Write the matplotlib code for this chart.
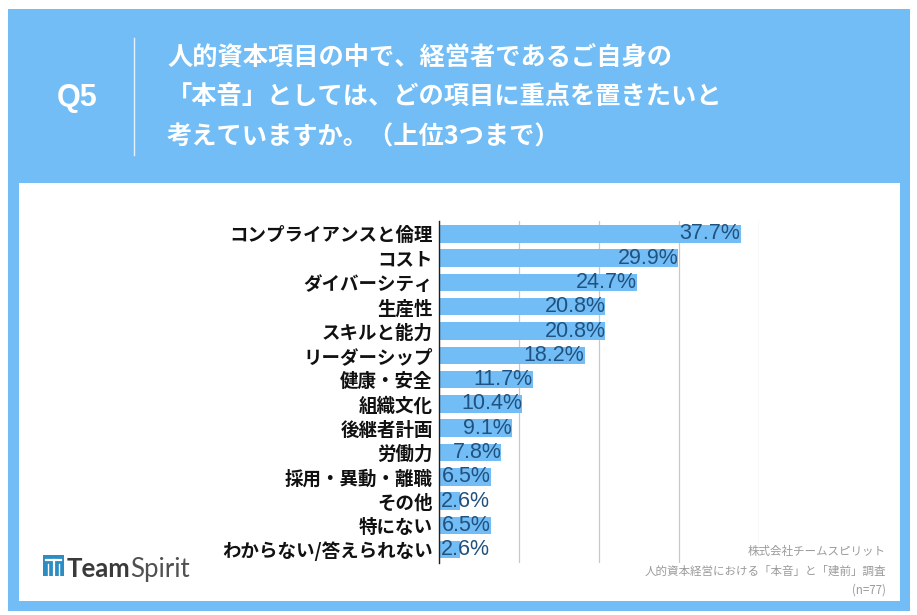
import matplotlib
matplotlib.use("Agg")
import matplotlib.pyplot as plt
from matplotlib.patches import Rectangle
from matplotlib.transforms import Affine2D, offset_copy
from matplotlib.lines import Line2D

categories = ["コンプライアンスと倫理", "コスト", "ダイバーシティ", "生産性", "スキルと能力",
              "リーダーシップ", "健康・安全", "組織文化", "後継者計画", "労働力",
              "採用・異動・離職", "その他", "特にない", "わからない/答えられない"]
values = [37.7, 29.9, 24.7, 20.8, 20.8, 18.2, 11.7, 10.4, 9.1, 7.8, 6.5, 2.6, 6.5, 2.6]
xticks = [0, 10, 20, 30, 40]

question = "Q5"
title_lines = ["人的資本項目の中で、経営者であるご自身の",
               "「本音」としては、どの項目に重点を置きたいと",
               "考えていますか。（上位3つまで）"]
source_lines = ["株式会社チームスピリット", "人的資本経営における「本音」と「建前」調査", "(n=77)"]

JP = ["Noto Sans CJK JP", "DejaVu Sans"]
plt.rcParams['font.family'] = JP

W, H = 917, 615
fig = plt.figure(figsize=(W / 100, H / 100), dpi=100)
fig.patch.set_facecolor("white")
px = Affine2D().scale(1 / W, -1 / H).translate(0, 1) + fig.transFigure

BLUE = "#72bdf5"
# panels
fig.add_artist(Rectangle((8, 9), 902, 602, transform=px, facecolor=BLUE, edgecolor="none", zorder=0))
fig.add_artist(Rectangle((19, 183), 881, 418, transform=px, facecolor="white", edgecolor="none", zorder=0))

# header
fig.text(77, 98, question, transform=px, color="white", fontsize=22, fontweight="bold",
         family=["Liberation Sans"], ha="center", va="center")
fig.add_artist(Line2D([134, 134], [38, 155], transform=px, color="white", lw=1.0, alpha=0.8))
for i, line in enumerate(title_lines):
    fig.text(167, 57 + 40 * i, line, transform=px, color="white", fontsize=18.2,
             fontweight="bold", ha="left", va="center")

# chart axes
ax = fig.add_axes([439 / W, 1 - 563 / H, 320 / W, 342.5 / H])
ax.set_facecolor("none")
y = list(range(len(categories)))
ax.barh(y, values, height=0.72, color=BLUE, zorder=2)
ax.set_xlim(0, 40)
ax.set_ylim(len(categories) - 0.45, -0.55)
ax.set_xticks(xticks)
ax.tick_params(axis="x", length=0, labelbottom=False)
ax.set_yticks(y)
ax.set_yticklabels(categories, fontsize=13.3, fontweight="bold", color="#111111")
ax.tick_params(axis="y", length=0, pad=4.5)
ax.grid(axis="x", color="#c8c8c8", lw=0.9, zorder=1)
ax.grid(axis="y", visible=False)
for s in ["top", "right", "bottom"]:
    ax.spines[s].set_visible(False)
ax.spines["left"].set_color("#222222")
ax.spines["left"].set_linewidth(1.0)
ax.spines["left"].set_zorder(3)

labels = []
for yi, v in zip(y, values):
    t = ax.text(v, yi, f"{v}%", ha="right", va="center", fontsize=15.5,
                family=["Liberation Sans"], color="#21527f", zorder=4)
    labels.append(t)

fig.canvas.draw()
r = fig.canvas.get_renderer()
ax_left = ax.get_window_extent(r).x0
for t, yi in zip(labels, y):
    bb = t.get_window_extent(r)
    if bb.x0 < ax_left + 2:
        t.set_position((0, yi))
        t.set_ha("left")
        t.set_transform(offset_copy(ax.transData, fig=fig, x=2, y=0, units="dots"))

# footer source text
for i, line in enumerate(source_lines):
    fig.text(886, 552 + 19 * i, line, transform=px, color="#9b9b9b", fontsize=8.3,
             ha="right", va="center")

# logo
fig.add_artist(Rectangle((43, 555), 21, 21, transform=px, facecolor="#2b8dc3", edgecolor="none"))
fig.add_artist(Line2D([46, 61], [560, 560], transform=px, color="white", lw=1.6))
fig.add_artist(Line2D([53.5, 53.5], [560, 575], transform=px, color="white", lw=1.6))
fig.add_artist(Line2D([48, 48], [564, 575], transform=px, color="white", lw=1.0))
fig.add_artist(Line2D([59, 59], [564, 575], transform=px, color="white", lw=1.0))
tt = fig.text(67, 577, "Team", transform=px, color="#3a3a3a", fontsize=18.5,
              fontweight="bold", family=["Lato"], ha="left", va="baseline")
fig.canvas.draw()
bb = tt.get_window_extent(fig.canvas.get_renderer())
fig.text(bb.x1 - 1, H - 577, "Spirit", transform=None, color="#505050", fontsize=18.5,
         fontweight="normal", family=["Lato"], ha="left", va="baseline")

fig.savefig("out.png", dpi=100)
